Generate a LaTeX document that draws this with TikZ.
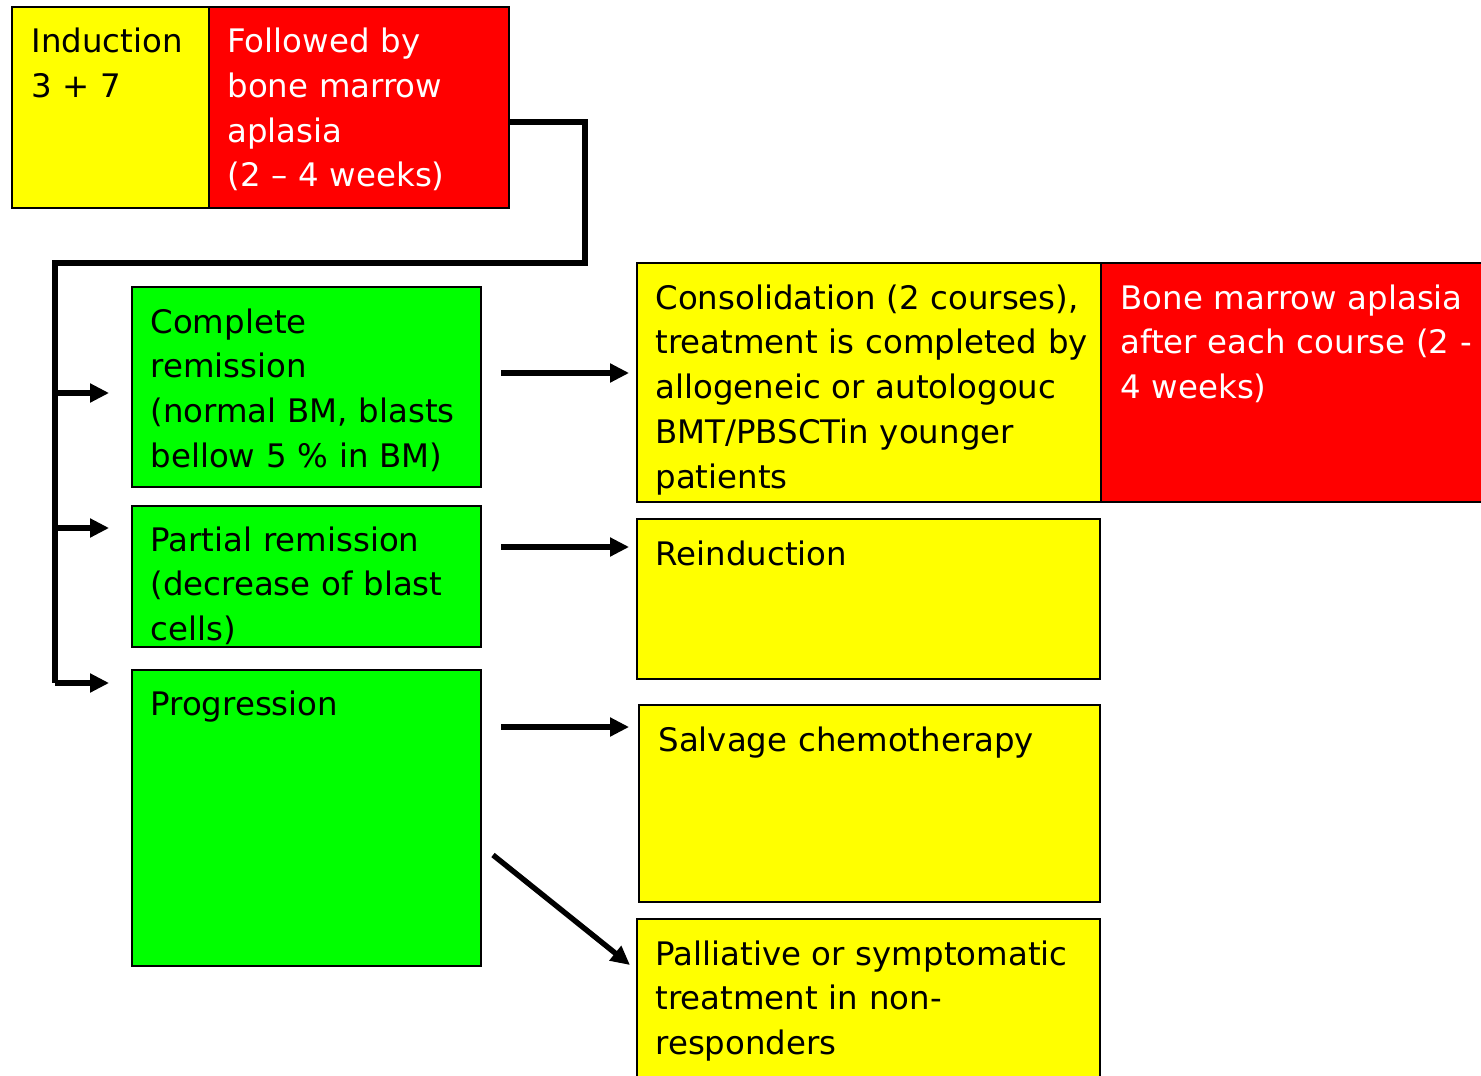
\documentclass[tikz,border=0pt]{standalone}
\usepackage{fontspec}
\setmainfont{DejaVu Sans}
\usetikzlibrary{positioning,arrows.meta,fit}
\definecolor{boxyellow}{RGB}{255,255,0}
\definecolor{boxred}{RGB}{255,0,0}
\definecolor{boxgreen}{RGB}{0,255,0}

\begin{document}
\begin{tikzpicture}[x=0.5pt,y=-0.5pt,
  box/.style={draw=black, line width=0.9pt, inner sep=0pt},
  ybox/.style={box, fill=boxyellow},
  rbox/.style={box, fill=boxred},
  gbox/.style={box, fill=boxgreen},
  txt/.style={anchor=base west, inner sep=0pt, align=left, text width=250pt,
    font=\fontsize{16.2}{22.4}\selectfont},
  wtxt/.style={txt, text=white},
  link/.style={line width=2.7pt},
  arr/.style={link, -{Triangle[length=9.5pt,width=9pt]}}]
\useasboundingbox[fill=white] (0,0) rectangle (1481,1075);
% induction row
\node[ybox, fit={(12,7)(209,208)}] (ind) {};
\node[rbox, fit={(209,7)(509,208)}] (apl) {};
\node[txt] at ([xshift=10pt,yshift=-23.25pt]ind.north west) {Induction\\3 + 7};
\node[wtxt] at ([xshift=9.5pt,yshift=-23.25pt]apl.north west) {Followed by\\bone marrow\\aplasia\\(2 -- 4 weeks)};
% response boxes
\node[gbox, fit={(132,287)(481,487)}] (cr) {};
\node[gbox, fit={(132,506)(481,647)}] (pr) {};
\node[gbox, fit={(132,670)(481,966)}] (prog) {};
\node[txt] at ([xshift=9.5pt,yshift=-23.5pt]cr.north west) {Complete\\remission\\(normal BM, blasts\\bellow 5 \% in BM)};
\node[txt] at ([xshift=9.5pt,yshift=-23pt]pr.north west) {Partial remission\\(decrease of blast\\cells)};
\node[txt] at ([xshift=9.5pt,yshift=-23pt]prog.north west) {Progression};
% treatment boxes
\node[ybox, fit={(637,263)(1101,502)}] (cons) {};
\node[rbox, fit={(1101,263)(1495,502)}] (cons apl) {};
\node[ybox, fit={(637,519)(1100,679)}] (reind) {};
\node[ybox, fit={(639,705)(1100,902)}] (salv) {};
\node[ybox, fit={(637,919)(1100,1095)}] (pall) {};
\node[txt] at ([xshift=9.5pt,yshift=-23.5pt]cons.north west) {Consolidation (2 courses),\\treatment is completed by\\allogeneic or autologouc\\BMT/PBSCTin younger\\patients};
\node[wtxt] at ([xshift=10pt,yshift=-23.5pt]cons apl.north west) {Bone marrow aplasia\\after each course (2 -\\4 weeks)};
\node[txt] at ([xshift=9.5pt,yshift=-23.5pt]reind.north west) {Reinduction};
\node[txt] at ([xshift=10pt,yshift=-23.5pt]salv.north west) {Salvage chemotherapy};
\node[txt] at ([xshift=9.5pt,yshift=-23.5pt]pall.north west) {Palliative or symptomatic\\treatment in non-\\responders};
% connectors
\coordinate (apl out) at (apl.east |- 0,122);
\coordinate (bend) at (585,263);
\coordinate (spine top) at (55,263);
\coordinate (spine end) at (55,683);
\draw[link] (apl out) -| (bend) -- (spine top) -- (spine end);
\draw[arr, shorten >=11pt] (55,393) coordinate (to cr) -- (to cr -| cr.west);
\draw[arr, shorten >=11pt] (55,528) coordinate (to pr) -- (to pr -| pr.west);
\draw[arr, shorten >=11pt] (spine end) -- (spine end -| prog.west);
\draw[arr, shorten >=3.5pt] (501,373) coordinate (cr out) -- (cr out -| cons.west);
\draw[arr, shorten >=3.5pt] (501,547) coordinate (pr out) -- (pr out -| reind.west);
\draw[arr, shorten >=4.5pt] (501,727) coordinate (prog out) -- (prog out -| salv.west);
\draw[arr] (493,855) coordinate (prog low) -- (630,965) coordinate (pall in);
\end{tikzpicture}
\end{document}
